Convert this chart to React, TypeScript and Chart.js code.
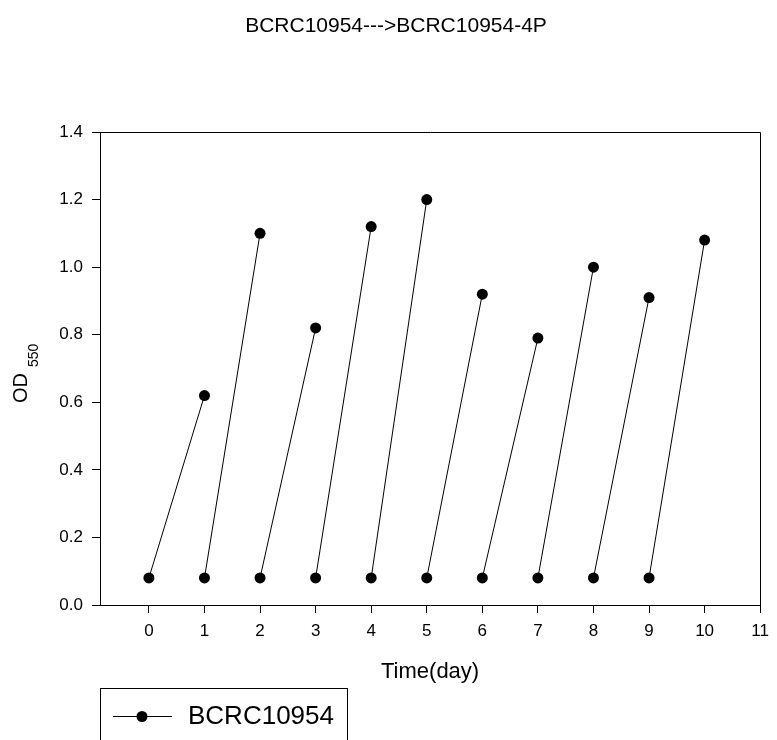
import React, { useEffect, useRef } from "react";
import { Chart, registerables } from "chart.js";

Chart.register(...registerables);

const TITLE = "BCRC10954--->BCRC10954-4P";
const SERIES_NAME = "BCRC10954";
const X_TITLE = "Time(day)";
const Y_TITLE_MAIN = "OD";
const Y_TITLE_SUB = "550";

const START_DAYS = [0, 1, 2, 3, 4, 5, 6, 7, 8, 9];
const START_OD = [0.08, 0.08, 0.08, 0.08, 0.08, 0.08, 0.08, 0.08, 0.08, 0.08];
const END_DAYS = [1, 2, 3, 4, 5, 6, 7, 8, 9, 10];
const END_OD = [0.62, 1.10, 0.82, 1.12, 1.20, 0.92, 0.79, 1.00, 0.91, 1.08];

const X_TICKS = [0, 1, 2, 3, 4, 5, 6, 7, 8, 9, 10, 11];
const Y_TICKS = [0, 0.2, 0.4, 0.6, 0.8, 1.0, 1.2, 1.4];

const FONT = '"Liberation Sans", Arial, Helvetica, sans-serif';

export default function App() {
  const ref = useRef<HTMLCanvasElement | null>(null);

  useEffect(() => {
    document.body.style.margin = "0";
    const canvas = ref.current;
    if (!canvas) return;

    const points: { x: number; y: number | null }[] = [];
    for (let i = 0; i < START_DAYS.length; i++) {
      points.push({ x: START_DAYS[i], y: START_OD[i] });
      points.push({ x: END_DAYS[i], y: END_OD[i] });
      points.push({ x: END_DAYS[i], y: null });
    }

    const decor = {
      id: "decor",
      afterDraw(chart: any) {
        const ctx = chart.ctx as CanvasRenderingContext2D;
        const a = chart.chartArea;
        ctx.save();
        // frame top & right
        ctx.strokeStyle = "#000";
        ctx.lineWidth = 1;
        ctx.beginPath();
        ctx.moveTo(Math.round(a.left) + 0.5, Math.round(a.top) + 0.5);
        ctx.lineTo(Math.round(a.right) + 0.5, Math.round(a.top) + 0.5);
        ctx.lineTo(Math.round(a.right) + 0.5, Math.round(a.bottom) + 0.5);
        ctx.stroke();

        ctx.fillStyle = "#000";
        // title
        ctx.font = `21px ${FONT}`;
        ctx.textAlign = "center";
        ctx.textBaseline = "alphabetic";
        ctx.fillText(TITLE, 396, 32);

        // x title
        ctx.font = `22px ${FONT}`;
        ctx.fillText(X_TITLE, (a.left + a.right) / 2, 678);

        // y title rotated
        ctx.save();
        ctx.translate(27, 403);
        ctx.rotate(-Math.PI / 2);
        ctx.textAlign = "left";
        ctx.font = `20px ${FONT}`;
        ctx.fillText(Y_TITLE_MAIN, 0, 0);
        const w = ctx.measureText(Y_TITLE_MAIN).width;
        ctx.font = `14px ${FONT}`;
        ctx.fillText(Y_TITLE_SUB, w + 6, 11);
        ctx.restore();

        // legend box
        ctx.strokeRect(100.5, 688.5, 247, 80);
        ctx.beginPath();
        ctx.moveTo(113, 716.5);
        ctx.lineTo(172, 716.5);
        ctx.stroke();
        ctx.beginPath();
        ctx.arc(142, 716.5, 5.5, 0, Math.PI * 2);
        ctx.fill();
        ctx.font = `26px ${FONT}`;
        ctx.textAlign = "left";
        ctx.fillText(SERIES_NAME, 188, 724);
        ctx.restore();
      },
    };

    const chart = new Chart(canvas, {
      type: "line",
      data: {
        datasets: [
          {
            label: SERIES_NAME,
            data: points as any,
            borderColor: "#000",
            backgroundColor: "#000",
            borderWidth: 1,
            pointRadius: 5.5,
            pointHoverRadius: 5.5,
            pointBackgroundColor: "#000",
            pointBorderColor: "#000",
            pointBorderWidth: 0,
            spanGaps: false,
            tension: 0,
            fill: false,
          },
        ],
      },
      options: {
        responsive: false,
        animation: false,
        devicePixelRatio: 1,
        events: [],
        layout: { padding: { top: 132, right: 13, left: 0, bottom: 0 } },
        plugins: {
          legend: { display: false },
          title: { display: false },
          tooltip: { enabled: false },
        },
        scales: {
          x: {
            type: "linear",
            min: -0.88,
            max: 11,
            afterBuildTicks: (s: any) => {
              s.ticks = X_TICKS.map((v) => ({ value: v }));
            },
            afterFit: (s: any) => {
              s.height = 135;
            },
            ticks: {
              color: "#000",
              font: { family: FONT, size: 17 },
              padding: 8,
              autoSkip: false,
              maxRotation: 0,
              callback: (v: any) => String(v),
            },
            grid: {
              drawOnChartArea: false,
              drawTicks: true,
              tickLength: 8,
              color: "#000",
              lineWidth: 1,
            },
            border: { color: "#000", width: 1 },
          },
          y: {
            type: "linear",
            min: 0,
            max: 1.4,
            afterBuildTicks: (s: any) => {
              s.ticks = Y_TICKS.map((v) => ({ value: v }));
            },
            afterFit: (s: any) => {
              s.width = 100;
            },
            ticks: {
              color: "#000",
              font: { family: FONT, size: 17 },
              padding: 9,
              callback: (v: any) => Number(v).toFixed(1),
            },
            grid: {
              drawOnChartArea: false,
              drawTicks: true,
              tickLength: 8,
              color: "#000",
              lineWidth: 1,
            },
            border: { color: "#000", width: 1 },
          },
        },
      },
      plugins: [decor],
    });

    return () => chart.destroy();
  }, []);

  return (
    <div style={{ position: "absolute", left: 0, top: 0, width: 777, height: 740 }}>
      <canvas ref={ref} width={777} height={740} style={{ width: 777, height: 740, display: "block" }} />
    </div>
  );
}
